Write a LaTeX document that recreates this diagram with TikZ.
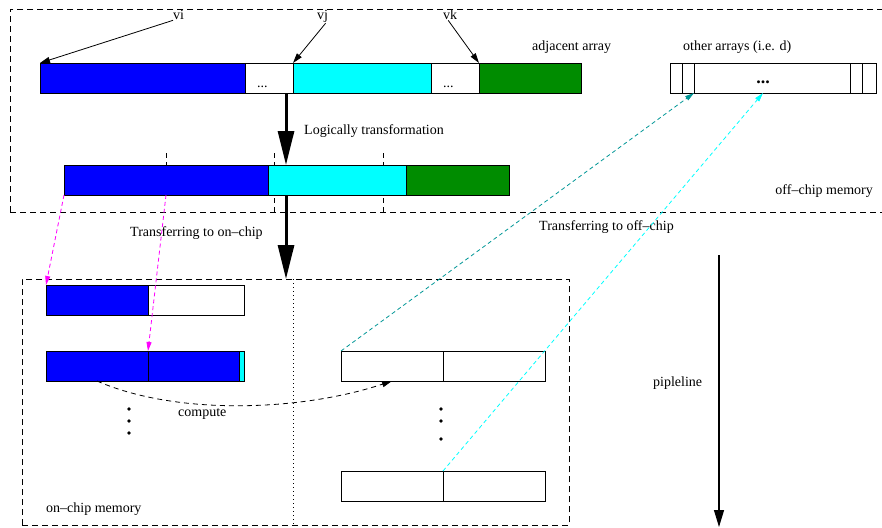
\documentclass[tikz,border=0pt]{standalone}
\usepackage{fontspec}
\setmainfont{Liberation Serif}
\usetikzlibrary{arrows.meta}
\definecolor{figgreen}{RGB}{0,140,0}
\definecolor{figteal}{RGB}{0,150,150}
\definecolor{figblue}{RGB}{0,0,255}
\definecolor{figcyan}{RGB}{0,255,255}
\definecolor{figmagenta}{RGB}{255,0,255}
\begin{document}
\begin{tikzpicture}[x=1pt,y=-1pt,
  cell/.style={draw, line width=0.9pt, inner sep=0pt, outer sep=0pt,
    anchor=north west, minimum height=30pt, fill=white},
  lbl/.style={inner sep=0pt, anchor=base west, font=\fontsize{14}{16}\selectfont},
  memedge/.style={line width=0.8pt, dash pattern=on 6pt off 4pt},
  guide/.style={line width=0.7pt, dash pattern=on 5pt off 4pt},
  ptr/.style={line width=0.8pt, -{Triangle[length=10pt,width=6pt]}},
  bigflow/.style={line width=3pt, -{Triangle[length=34pt,width=16pt]}},
  xfer/.style={line width=0.8pt, dash pattern=on 4pt off 3pt,
    -{Triangle[length=9pt,width=5pt]}},
  dot/.style={circle, fill=black, inner sep=0pt, minimum size=3.6pt}
]
\useasboundingbox (0,0) rectangle (882,527);

% memory regions
\node[draw, memedge, anchor=north west, inner sep=0pt,
  minimum width=890pt, minimum height=203pt] (offchip) at (10,9) {};
\node[draw, memedge, anchor=north west, inner sep=0pt,
  minimum width=547pt, minimum height=246pt] (onchip) at (22,279) {};
\coordinate (split) at (293,0);
\draw[line width=0.7pt, dash pattern=on 1pt off 3pt]
  (onchip.north -| split) -- (onchip.south -| split);

% boundaries of the transformed array
\coordinate (g1) at (166,153);
\coordinate (g1b) at (166,195);
\coordinate (g2) at (274,153);
\coordinate (g2b) at (274,212);
\coordinate (g3) at (383,153);
\coordinate (g3b) at (383,212);
\draw[guide] (g1) -- (g1b);
\draw[guide] (g2) -- (g2b);
\draw[guide] (g3) -- (g3b);

% adjacent array
\node[cell, fill=figblue, minimum width=205pt] (ab) at (40,63) {};
\node[cell, minimum width=48pt] (ad1) at (245,63) {};
\node[cell, fill=figcyan, minimum width=138pt] (ac) at (293,63) {};
\node[cell, minimum width=48pt] (ad2) at (431,63) {};
\node[cell, fill=figgreen, minimum width=102pt] (ag) at (479,63) {};
\node[lbl] (e1) at (257,87) {...};
\node[lbl] (e2) at (443,87) {...};

% transformed array
\node[cell, fill=figblue, minimum width=204pt] (bb) at (64,165) {};
\node[cell, fill=figcyan, minimum width=138pt] (bc) at (268,165) {};
\node[cell, fill=figgreen, minimum width=103pt] (bg) at (406,165) {};

% other arrays
\node[cell, minimum width=12pt] (o1) at (670,63) {};
\node[cell, minimum width=12pt] (o2) at (682,63) {};
\node[cell, minimum width=156pt] (o3) at (694,63) {};
\node[cell, minimum width=12pt] (o4) at (850,63) {};
\node[cell, minimum width=14pt] (o5) at (862,63) {};
\node[inner sep=0pt, anchor=base, font=\fontsize{18}{20}\selectfont\bfseries]
  (od) at (763,83) {...};

% on-chip buffers
\node[cell, fill=figblue, minimum width=102pt] (p1) at (46,285) {};
\node[cell, minimum width=96pt] (p2) at (148,285) {};
\node[cell, fill=figblue, minimum width=102pt] (q1) at (46,351) {};
\node[cell, fill=figblue, minimum width=91pt] (q2) at (148,351) {};
\node[cell, fill=figcyan, minimum width=5pt] (q3) at (239,351) {};
\node[cell, minimum width=102pt] (r1) at (341,351) {};
\node[cell, minimum width=102pt] (r2) at (443,351) {};
\node[cell, minimum width=102pt] (s1) at (341,471) {};
\node[cell, minimum width=102pt] (s2) at (443,471) {};

% vertical ellipses
\node[dot] (l1) at (129,409) {};
\node[dot] (l2) at (129,421) {};
\node[dot] (l3) at (129,433) {};
\node[dot] (k1) at (441,409) {};
\node[dot] (k2) at (441,421) {};
\node[dot] (k3) at (441,439) {};

% labels
\node[lbl] (vi) at (173,20) {vi};
\node[lbl] (vj) at (317,20) {vj};
\node[lbl] (vk) at (443,20) {vk};
\node[lbl] (adj) at (532,51) {adjacent array};
\node[lbl] (oth) at (683,51) {other arrays (i.e. d)};
\node[lbl] (logic) at (304,134) {Logically transformation};
\node[lbl, anchor=base east] (offl) at (873,194) {off--chip memory};
\node[lbl] (ton) at (130,236) {Transferring to on--chip};
\node[lbl] (toff) at (539,230) {Transferring to off--chip};
\node[lbl] (comp) at (178,416) {compute};
\node[lbl] (onl) at (46,512) {on--chip memory};
\node[lbl] (pipe) at (653,386) {pipleline};

% vertex pointers
\draw[ptr] (vi.south west) -- (ab.north west);
\draw[ptr] ([xshift=3pt]vj.south) -- (ac.north west);
\draw[ptr] ([xshift=-2pt]vk.south) -- (ag.north west);

% main flow
\coordinate (flow) at (286,0);
\draw[bigflow] (ad1.south -| flow) -- (bc.north -| flow);
\draw[bigflow] (bc.south -| flow) -- (onchip.north -| flow);

% transfers
\draw[xfer, figmagenta] (bb.south west) -- (p1.north west);
\draw[xfer, figmagenta] (g1b) -- (q1.north east);
\draw[xfer, figteal] (r1.north west) -- (o2.south east);
\draw[xfer, figcyan] (s1.north east) -- (o3.south -| od);

% compute
\draw[line width=0.8pt, dash pattern=on 5pt off 4pt, -{Triangle[length=10pt,width=6pt]}]
  (q1.south) .. controls +(80,35) and +(-90,30) .. (r1.south);

% pipeline direction
\coordinate (pt) at (719,255);
\coordinate (pb) at (719,527);
\draw[line width=1.2pt, -{Triangle[length=17pt,width=10pt]}] (pt) -- (pb);
\end{tikzpicture}
\end{document}
